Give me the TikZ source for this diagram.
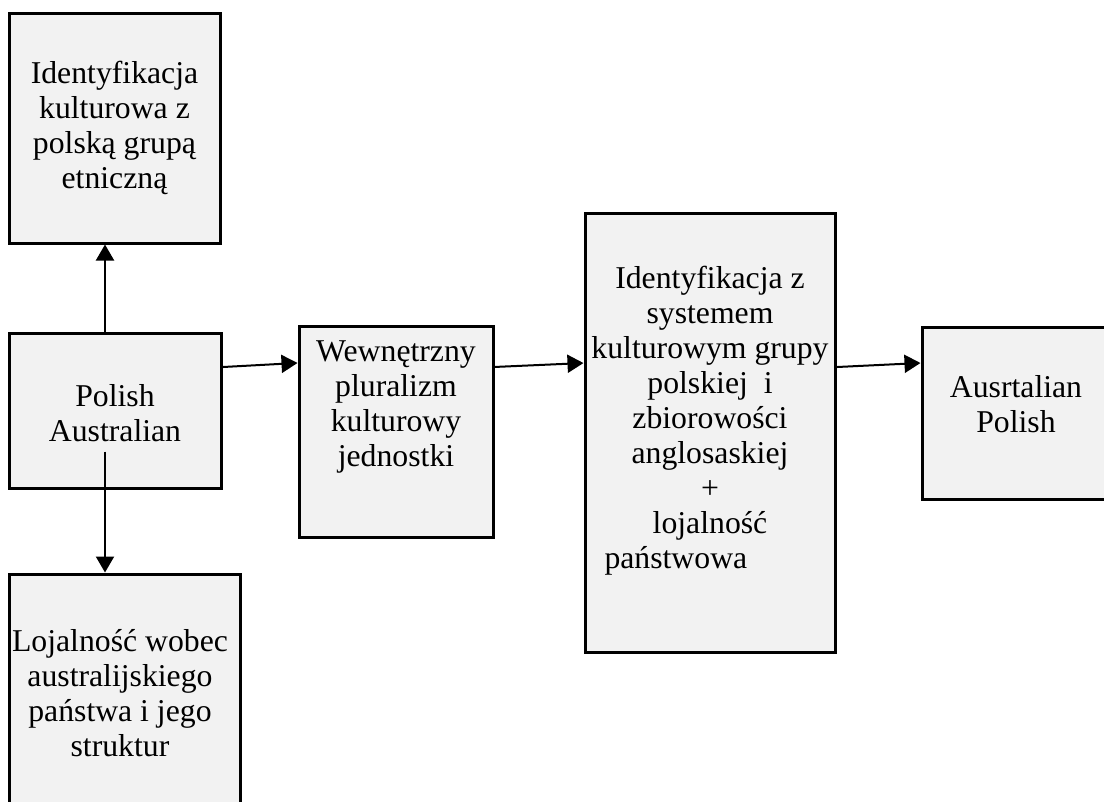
\documentclass[tikz,border=0pt]{standalone}
\usepackage{fontspec}
\setmainfont{Liberation Serif}
\usetikzlibrary{arrows.meta}
\definecolor{caixa}{RGB}{242,242,242}

\begin{document}
\begin{tikzpicture}[x=0.75pt,y=-0.75pt,
    box/.style={draw, line width=2.25pt, fill=caixa, rectangle, inner sep=0pt},
    txt/.style={align=center, inner sep=0pt, font=\fontsize{23.8}{26.25}\selectfont},
    seta/.style={-{Triangle[width=13.5pt,length=12pt]}, line width=1.5pt}]
        \clip (0,0) rectangle (1104,801);

        % Caixas
        \node[box, minimum width=158.25pt, minimum height=172.5pt] (ident) at (114.5,128) {};
        \node[box, minimum width=159pt, minimum height=116.25pt] (polaus) at (115,410.5) {};
        \node[box, minimum width=173.25pt, minimum height=192pt] (lojal) at (124.5,702) {};
        \node[box, minimum width=145.5pt, minimum height=158.25pt] (plural) at (396,431.5) {};
        \node[box, minimum width=187.5pt, minimum height=329.25pt] (system) at (710,432.5) {};
        \node[box, minimum width=141pt, minimum height=129pt] (auspol) at (1016,413) {};

        % Textos
        \node[txt] (ident-t) at (ident.center) {Identyfikacja\\kulturowa z\\polską grupą\\etniczną};
        \node[txt] (polaus-t) at ([yshift=-1.9pt]polaus.center) {Polish\\Australian};
        \node[txt] (lojal-t) at (120,693) {Lojalność wobec\\australijskiego\\państwa i jego\\struktur};
        \node[txt] (plural-t) at ([yshift=18.4pt]plural.center) {Wewnętrzny\\pluralizm\\kulturowy\\jednostki};
        \node[txt] (system-t) at ([yshift=9pt]system.center) {Identyfikacja z\\systemem\\kulturowym grupy\\polskiej\ \ i\\zbiorowości\\anglosaskiej\\+\\lojalność\\państwowa\hspace*{2.15em}};
        \node[txt] (auspol-t) at ([yshift=6.4pt]auspol.center) {Ausrtalian\\Polish};

        % Setas
        \draw[seta] ([xshift=-7.5pt]polaus.north) -- ([xshift=-7.5pt]polaus.north |- ident.south);
        \draw[seta] ([xshift=-7.5pt,yshift=28.5pt]polaus.south) -- ([xshift=-7.5pt]polaus.south |- lojal.north);
        \draw[seta] ([yshift=32.6pt]polaus.east) -- ([yshift=51.4pt]plural.west);
        \draw[seta] ([yshift=48.4pt]plural.east) -- ([yshift=52.1pt]system.west);
        \draw[seta] ([yshift=49.1pt]system.east) -- ([yshift=37.5pt]auspol.west);
    \end{tikzpicture}
\end{document}
